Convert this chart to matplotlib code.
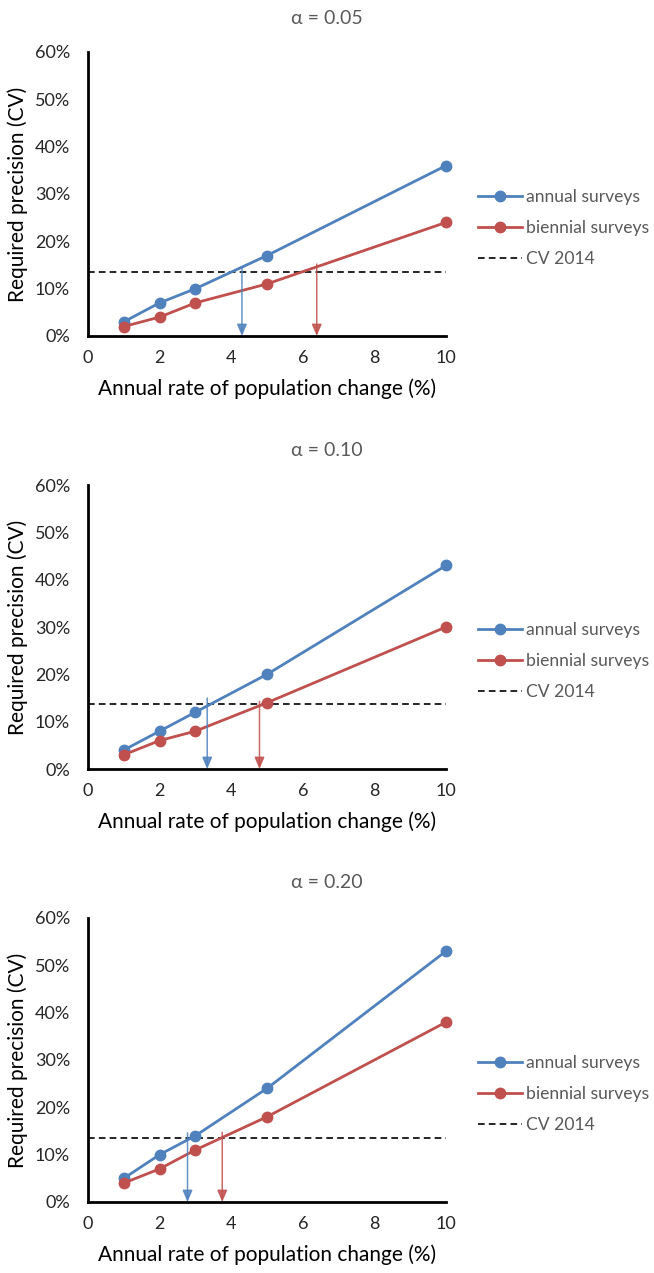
import matplotlib
matplotlib.use("Agg")
import matplotlib.pyplot as plt
from matplotlib.ticker import PercentFormatter

plt.rcParams['font.family'] = ['Lato', 'DejaVu Sans']

# data
rates = [1, 2, 3, 5, 10]
alphas = ["0.05", "0.10", "0.20"]
annual = [
    [3, 7, 10, 17, 36],
    [4, 8, 12, 20, 43],
    [5, 10, 14, 24, 53],
]
biennial = [
    [2, 4, 7, 11, 24],
    [3, 6, 8, 14, 30],
    [4, 7, 11, 18, 38],
]
cv_2014 = [13.6, 13.7, 13.6]
# drop arrows: (x position, top of arrow in %)
annual_arrow = [(4.3, 14.4), (3.33, 15.0), (2.78, 14.6)]
biennial_arrow = [(6.39, 15.2), (4.79, 14.3), (3.75, 14.7)]

blue = "#4F81BD"
red = "#C0504D"
grey = "#595959"

fig = plt.figure(figsize=(6.54, 12.73), dpi=100)
W, H = 654, 1273

# axes bottoms (px from top) for each panel
axes_bottom = [336, 769, 1202]
title_y = [18, 450, 883]

for i in range(3):
    bottom = axes_bottom[i]
    ax = fig.add_axes([88 / W, 1 - bottom / H, 358 / W, 284 / H])
    ax.plot(rates, annual[i], color=blue, lw=2, marker="o", ms=7.5,
            label="annual surveys", clip_on=False, zorder=3)
    ax.plot(rates, biennial[i], color=red, lw=2, marker="o", ms=7.5,
            label="biennial surveys", clip_on=False, zorder=3)
    ax.plot([0, 10], [cv_2014[i], cv_2014[i]], color="black", lw=1.2,
            ls=(0, (4, 2.5)), label="CV 2014", zorder=2)

    for (xa, ya), c in ((annual_arrow[i], blue), (biennial_arrow[i], red)):
        ax.annotate("", xy=(xa, 0), xytext=(xa, ya),
                    arrowprops=dict(arrowstyle="-|>,head_length=0.7,head_width=0.3",
                                    color=c, lw=1.1, alpha=0.85,
                                    shrinkA=0, shrinkB=0),
                    zorder=4)

    ax.set_xlim(0, 10)
    ax.set_ylim(0, 60)
    ax.set_xticks(range(0, 11, 2))
    ax.set_yticks(range(0, 61, 10))
    ax.yaxis.set_major_formatter(PercentFormatter(decimals=0))
    ax.tick_params(length=0, labelsize=13, colors="#262626")
    ax.tick_params(axis="y", pad=13)
    ax.tick_params(axis="x", pad=10)
    for s in ("top", "right"):
        ax.spines[s].set_visible(False)
    for s in ("left", "bottom"):
        ax.spines[s].set_linewidth(2)
        ax.spines[s].set_color("black")

    ax.set_xlabel("Annual rate of population change (%)", fontsize=15,
                  color="black", labelpad=9)
    ax.set_ylabel("Required precision (CV)", fontsize=15, color="black",
                  labelpad=5)

    fig.text(0.5, 1 - title_y[i] / H, "\u03b1 = " + alphas[i], ha="center",
             va="center", fontsize=14, color=grey)

    leg = ax.legend(loc="center left", bbox_to_anchor=(1.09, 0.38), frameon=False,
                    fontsize=12.6, handlelength=2.5, handletextpad=0.25,
                    labelspacing=0.85, borderaxespad=0, borderpad=0)
    for t in leg.get_texts():
        t.set_color(grey)

fig.savefig("out.png", dpi=100)
